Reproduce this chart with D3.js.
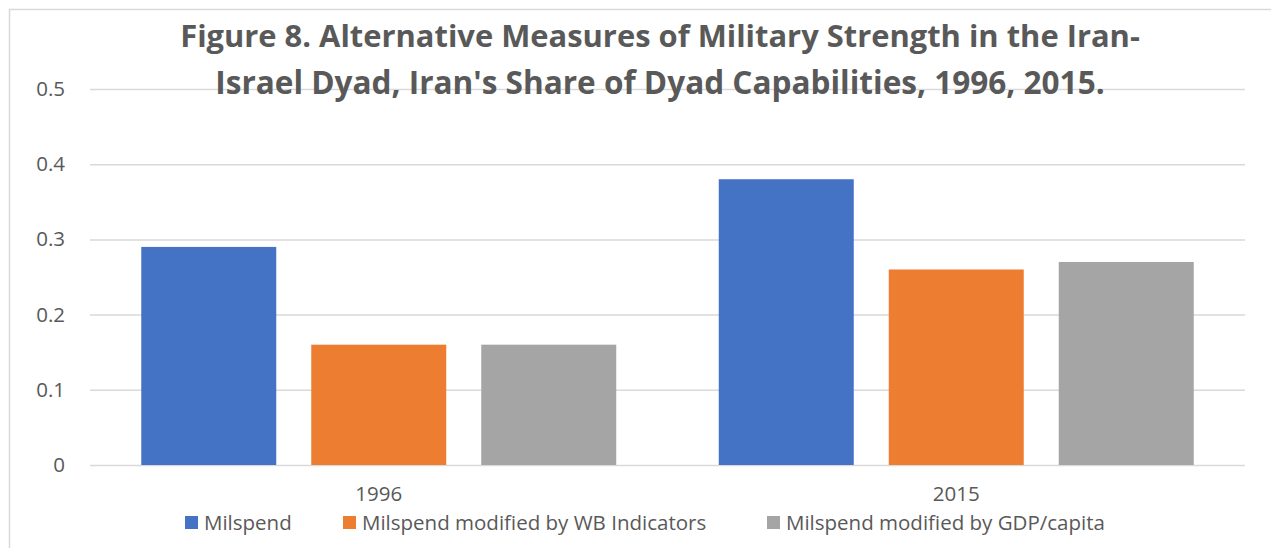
<!DOCTYPE html>
<html><head><meta charset="utf-8">
<script src="https://cdn.jsdelivr.net/npm/d3@7"></script>
<style>body{margin:0;background:#fff;} svg{display:block;font-family:"Open Sans",sans-serif;}</style>
</head><body><svg id="c" width="1271" height="548"></svg>
<script>
const categories = ["1996", "2015"];
const seriesNames = ["Milspend", "Milspend modified by WB Indicators", "Milspend modified by GDP/capita"];
const milspend = [0.29, 0.38];
const milspendWB = [0.16, 0.26];
const milspendGDP = [0.16, 0.27];
const yTicks = [0, 0.1, 0.2, 0.3, 0.4, 0.5];
const titleLines = ["Figure 8. Alternative Measures of Military Strength in the Iran-", "Israel Dyad, Iran's Share of Dyad Capabilities, 1996, 2015."];
const colors = ["#4472C4", "#ED7D31", "#A5A5A5"];

(function () {
const series = [milspend, milspendWB, milspendGDP];
const svg = d3.select("#c");
const txt = "#595959";
const fs = "20.5px";

svg.append("rect").attr("x", 9.5).attr("y", 9.5).attr("width", 1280).attr("height", 600)
  .attr("fill", "none").attr("stroke", "#d9d9d9").attr("stroke-width", 1.5);

const mL = 90, mR = 1245, mT = 89, mB = 465;
const y = d3.scaleLinear().domain([0, 0.5]).range([mB, mT]);
const x0 = d3.scaleBand().domain(categories).range([mL, mR]);
const x1 = d3.scaleBand().domain(d3.range(3)).range([0, x0.bandwidth()]).paddingInner(0.2059).paddingOuter(0.3015);

const yAxis = d3.axisLeft(y).tickValues(yTicks).tickSize(-(mR - mL)).tickFormat(d => d === 0 ? "0" : d3.format(".1f")(d));
const ga = svg.append("g").attr("transform", `translate(${mL},0)`).call(yAxis);
ga.select(".domain").remove();
ga.selectAll(".tick line").attr("stroke", "#d9d9d9").attr("stroke-width", 1.5);
ga.selectAll(".tick text").attr("x", -25).attr("fill", txt).style("font-size", fs).style("font-family", "Open Sans");

categories.forEach((c, ci) => {
  series.forEach((s, si) => {
    svg.append("rect")
      .attr("x", x0(c) + x1(si)).attr("width", x1.bandwidth())
      .attr("y", y(s[ci])).attr("height", y(0) - y(s[ci]))
      .attr("fill", colors[si]);
  });
});

const xAxis = d3.axisBottom(x0).tickSize(0).tickPadding(0);
const gx = svg.append("g").attr("transform", `translate(0,${mB})`).call(xAxis);
gx.select(".domain").remove();
gx.selectAll(".tick text").attr("y", 21).attr("dy", "0.71em").attr("fill", txt).style("font-size", fs).style("font-family", "Open Sans");

const title = svg.append("g");
titleLines.forEach((t, i) => {
  title.append("text").attr("x", 660).attr("y", 47 + i * 47).attr("text-anchor", "middle")
    .attr("fill", txt).style("font-weight", "bold").style("font-size", "30px").text(t);
});
const targetW = [960, 890];
title.selectAll("text").each(function(d, i) {
  const w = this.getComputedTextLength();
  const f = 30 * targetW[i] / w;
  d3.select(this).style("font-size", Math.min(f, 34) + "px");
});

const legX = [185, 343, 767];
const leg = svg.append("g");
seriesNames.forEach((n, i) => {
  leg.append("rect").attr("x", legX[i]).attr("y", 516).attr("width", 13).attr("height", 13).attr("fill", colors[i]);
  leg.append("text").attr("x", legX[i] + 19).attr("y", 530).attr("fill", txt).style("font-size", fs).text(n);
});
})();
</script></body></html>
